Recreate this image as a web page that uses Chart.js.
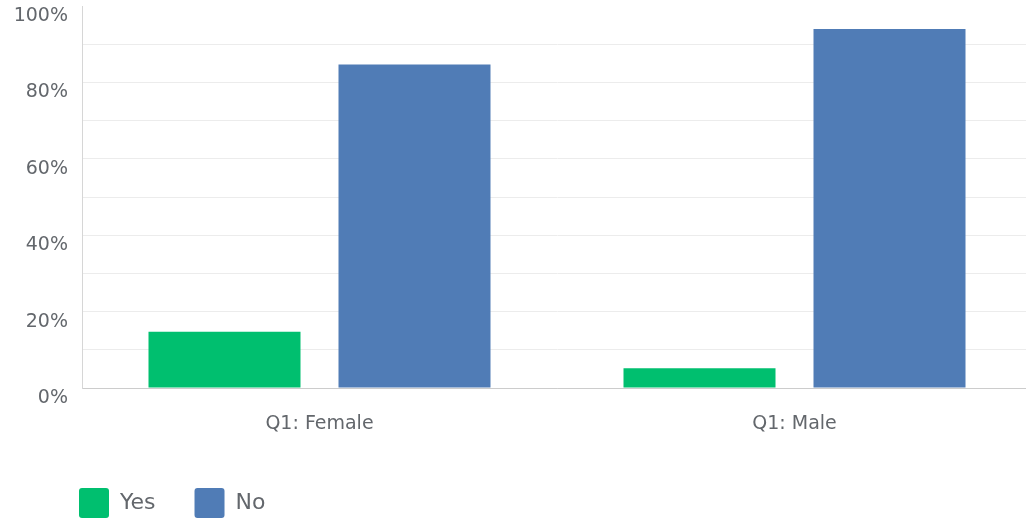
<!DOCTYPE html>
<html>
<head>
<meta charset="utf-8">
<script src="https://cdn.jsdelivr.net/npm/chart.js@4"></script>
<style>
  html, body { margin: 0; padding: 0; background: #fff; overflow: hidden; width: 1026px; height: 519px; }
  #wrap { position: absolute; left: 0; top: 0; width: 1040px; height: 528px; }
</style>
</head>
<body>
<div id="wrap"><canvas id="c" width="1040" height="528"></canvas></div>
<script>
const categories = ["Q1: Female", "Q1: Male"];
const seriesNames = ["Yes", "No"];
const yesValues = [14.7, 5.2];
const noValues = [84.7, 94.0];
const yTickLabels = [0, 20, 40, 60, 80, 100];

const textColor = '#63676c';
const font = "'DejaVu Sans', sans-serif";

const legendShift = {
  id: 'legendShift',
  afterLayout(chart) {
    if (chart.legend) { chart.legend.left = 40; }
  }
};

new Chart(document.getElementById('c'), {
  type: 'bar',
  data: {
    labels: categories,
    datasets: [
      { label: seriesNames[0], data: yesValues, backgroundColor: '#00bf6f', borderWidth: 0 },
      { label: seriesNames[1], data: noValues, backgroundColor: '#507cb6', borderWidth: 0 }
    ]
  },
  plugins: [legendShift],
  options: {
    responsive: false,
    devicePixelRatio: 1,
    animation: false,
    datasets: { bar: { barPercentage: 0.8, categoryPercentage: 0.8 } },
    layout: { padding: { left: 0, right: 8, top: 6, bottom: 0 } },
    plugins: {
      tooltip: { enabled: false },
      legend: {
        position: 'bottom',
        align: 'start',
        labels: {
          boxWidth: 30,
          boxHeight: 30,
          padding: 39,
          color: textColor,
          font: { family: font, size: 22 },
          generateLabels(chart) {
            return chart.data.datasets.map((ds, i) => ({
              text: ds.label,
              fillStyle: ds.backgroundColor,
              strokeStyle: ds.backgroundColor,
              lineWidth: 0,
              borderRadius: 3,
              fontColor: textColor,
              datasetIndex: i
            }));
          }
        }
      }
    },
    scales: {
      x: {
        grid: { display: false, drawTicks: false },
        border: { display: true, color: '#cccccc', width: 1 },
        ticks: { color: textColor, font: { family: font, size: 19 }, padding: 25 },
        afterFit(scale) { scale.height = 61; scale.paddingLeft = 0; scale.paddingRight = 0; }
      },
      y: {
        min: 0,
        max: 100,
        grid: {
          drawTicks: false,
          color(ctx) {
            const v = ctx.tick && ctx.tick.value;
            if (v === 100) return 'rgba(0,0,0,0)';
            if (v === 0) return '#cccccc';
            return '#ececec';
          },
          lineWidth: 1
        },
        border: { display: true, color: '#d6d6d6', width: 1 },
        ticks: {
          stepSize: 10,
          padding: 14,
          labelOffset: 10,
          color: textColor,
          font: { family: font, size: 19 },
          callback(v) { return yTickLabels.includes(v) ? v + '%' : ''; }
        },
        afterFit(scale) { scale.width = 82; scale.paddingTop = 0; scale.paddingBottom = 0; }
      }
    }
  }
});
</script>
</body>
</html>
